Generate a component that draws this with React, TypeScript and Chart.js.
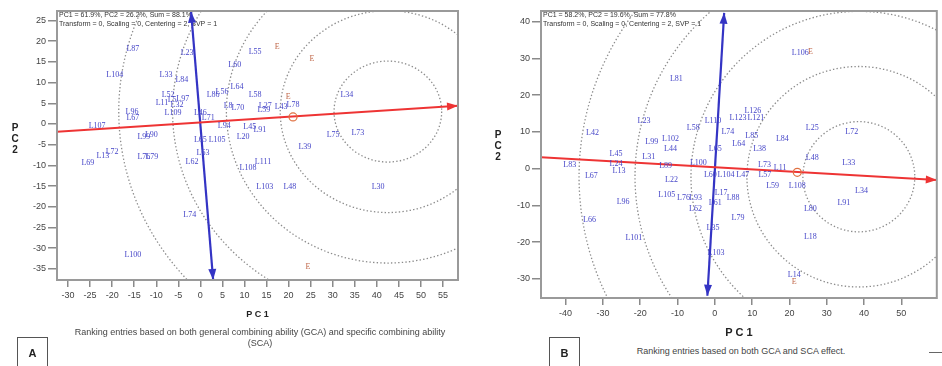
import React, { useEffect, useRef } from "react";
import { Chart, registerables } from "chart.js";
Chart.register(...registerables);

// ---------------- Panel A data ----------------
const aNames = ["L87","L23","L104","L33","L84","L60","L55","L64","L86","L56","L11","L5","L32","L97","L52","L109","L96","L67","L107","L99","L90","L46","L71","L94","L8","L70","L58","L27","L59","L43","L78","L34","L75","L73","L39","L111","L108","L103","L48","L30","L45","L91","L20","L65","L105","L63","L62","L74","L100","L72","L13","L69","L79","L76"];
const aX = [-15.3,-3.0,-19.4,-7.8,-4.2,7.8,12.4,8.3,2.9,4.9,-8.7,-6.4,-5.3,-4.0,-7.3,-6.2,-15.5,-15.3,-23.4,-12.8,-11.1,0.0,1.8,5.4,6.3,8.5,12.4,14.7,14.4,18.3,21.0,33.2,30.1,35.7,23.7,14.2,10.8,14.6,20.3,40.3,11.2,13.5,9.7,0.0,3.8,0.6,-1.9,-2.4,-15.3,-20.0,-22.1,-25.5,-11.0,-12.8];
const aY = [18.1,17.2,11.9,11.9,10.6,14.3,17.4,9.0,7.0,7.7,5.1,5.8,4.6,6.0,7.0,2.7,2.9,1.5,-0.5,-3.1,-2.6,2.7,1.5,-0.5,4.4,3.9,7.0,4.4,3.4,4.1,4.6,7.0,-2.7,-2.2,-5.6,-9.2,-10.6,-15.2,-15.2,-15.2,-0.7,-1.5,-3.1,-3.9,-3.9,-7.0,-9.2,-22.0,-31.7,-6.8,-7.7,-9.4,-8.0,-8.0];
const aEnvX = [17.4, 25.3, 19.9, 24.4];
const aEnvY = [18.6, 15.7, 6.5, -34.6];
const aAvgX = [21.0];
const aAvgY = [1.7];
const aTicksX = [-30,-25,-20,-15,-10,-5,0,5,10,15,20,25,30,35,40,45,50,55];
const aTicksY = [-35,-30,-25,-20,-15,-10,-5,0,5,10,15,20,25];
const aCenter = [42.5, 3.0];
const aRadii = [12.2, 24.4, 36.6, 48.8, 61.0];
const aRedX = [-32.5, 58.4];
const aRedY = [-1.9, 4.4];
const aBlueX = [-2.1, 2.9];
const aBlueY = [27.1, -37.7];
const aHeader = ["PC1 = 61.9%, PC2 = 26.2%, Sum = 88.1%", "Transform = 0, Scaling = 0, Centering = 2, SVP = 1"];

// ---------------- Panel B data ----------------
const bNames = ["L81","L42","L23","L99","L102","L44","L45","L31","L83","L24","L13","L67","L58","L110","L74","L65","L89","L100","L22","L60","L104","L47","L57","L105","L76","L93","L62","L17","L61","L88","L96","L79","L123","L126","L121","L85","L64","L38","L73","L11","L84","L25","L72","L48","L33","L59","L108","L34","L91","L80","L18","L35","L103","L14","L66","L101","L106"];
const bX = [-10.3,-32.8,-19.0,-16.9,-11.9,-11.9,-26.5,-17.7,-38.9,-26.5,-25.7,-33.1,-5.8,-0.5,3.5,0.1,-13.2,-4.4,-11.6,-1.2,3.0,7.5,13.4,-12.9,-8.4,-5.2,-5.2,1.7,0.1,4.9,-24.6,6.2,6.2,10.2,11.0,9.9,6.4,12.0,13.3,17.5,18.1,26.1,36.7,26.1,35.9,15.5,22.1,39.3,34.6,25.6,25.6,-0.5,0.3,21.3,-33.6,-21.7,22.9];
const bY = [24.5,9.6,12.9,7.2,8.2,5.5,3.9,3.1,0.9,1.2,-0.7,-2.1,11.0,13.1,9.9,5.5,0.7,1.5,-3.1,-1.8,-1.8,-1.8,-1.8,-7.2,-8.0,-8.0,-11.0,-6.7,-9.4,-8.0,-9.1,-13.5,13.9,15.8,13.7,8.8,6.6,5.5,1.0,0.1,8.2,11.0,9.9,2.8,1.5,-4.8,-4.8,-6.1,-9.4,-11.0,-18.6,-16.2,-23.0,-28.9,-14.0,-18.9,31.6];
const bEnvX = [25.6, 21.3];
const bEnvY = [31.9, -30.8];
const bAvgX = [22.1];
const bAvgY = [-1.0];
const bTicksX = [-40,-30,-20,-10,0,10,20,30,40,50];
const bTicksY = [-30,-20,-10,0,10,20,30,40];
const bCenter = [38.6, -2.2];
const bRadii = [15, 30, 45, 60, 75];
const bRedX = [-46.6, 59.5];
const bRedY = [3.1, -3.1];
const bBlueX = [2.5, -2.0];
const bBlueY = [42.4, -34.6];
const bHeader = ["PC1 = 58.2%, PC2 = 19.6%, Sum = 77.8%", "Transform = 0, Scaling = 0, Centering = 2, SVP = 1"];

const SANS = "'Liberation Sans', Arial, sans-serif";
const SERIF = "'Liberation Serif', 'Times New Roman', serif";
const LABEL_BLUE = "#4646c8";
const ENV_COL = "#c0684a";

const biplotPlugin = {
  id: "biplot",
  beforeDatasetsDraw(chart: any, _args: any, opts: any) {
    const { ctx, chartArea: a, scales } = chart;
    const x = scales.x, y = scales.y;
    ctx.save();
    ctx.beginPath();
    ctx.rect(a.left, a.top, a.right - a.left, a.bottom - a.top);
    ctx.clip();
    ctx.strokeStyle = "#8c8c8c";
    ctx.lineWidth = 1.3;
    ctx.setLineDash([1.4, 2.2]);
    const cx = x.getPixelForValue(opts.center[0]);
    const cy = y.getPixelForValue(opts.center[1]);
    for (const r of opts.radii) {
      const rx = x.getPixelForValue(opts.center[0] + r) - cx;
      const ry = cy - y.getPixelForValue(opts.center[1] + r);
      ctx.beginPath();
      ctx.ellipse(cx, cy, rx, ry, 0, 0, Math.PI * 2);
      ctx.stroke();
    }
    ctx.restore();
    ctx.save();
    ctx.font = `7px ${SANS}`;
    ctx.fillStyle = "#333";
    ctx.textBaseline = "middle";
    opts.header.forEach((t: string, i: number) => ctx.fillText(t, a.left + 2, a.top + 4 + i * 9));
    ctx.restore();
  },
  afterDatasetsDraw(chart: any) {
    const { ctx } = chart;
    chart.data.datasets.forEach((ds: any, i: number) => {
      const meta = chart.getDatasetMeta(i);
      if (ds.labelTexts) {
        ctx.save();
        ctx.font = `8px ${SERIF}`;
        ctx.fillStyle = ds.labelColor;
        ctx.textAlign = "center";
        ctx.textBaseline = "middle";
        meta.data.forEach((el: any, j: number) => ctx.fillText(ds.labelTexts[j], el.x, el.y));
        ctx.restore();
      }
      if (ds.arrowEnds) {
        const p = meta.data;
        const heads: any[] = [];
        if (ds.arrowEnds.includes("end")) heads.push([p[0], p[1]]);
        if (ds.arrowEnds.includes("start")) heads.push([p[1], p[0]]);
        ctx.save();
        ctx.fillStyle = ds.borderColor;
        for (const [from, tip] of heads) {
          const ang = Math.atan2(tip.y - from.y, tip.x - from.x);
          const L = 11, W = 4;
          ctx.beginPath();
          ctx.moveTo(tip.x, tip.y);
          ctx.lineTo(tip.x - L * Math.cos(ang) + W * Math.sin(ang), tip.y - L * Math.sin(ang) - W * Math.cos(ang));
          ctx.lineTo(tip.x - L * Math.cos(ang) - W * Math.sin(ang), tip.y - L * Math.sin(ang) + W * Math.cos(ang));
          ctx.closePath();
          ctx.fill();
        }
        ctx.restore();
      }
    });
  },
  afterDraw(chart: any) {
    const { ctx, chartArea: a } = chart;
    ctx.save();
    ctx.strokeStyle = "#9a9a9a";
    ctx.lineWidth = 2;
    ctx.strokeRect(a.left, a.top, a.right - a.left, a.bottom - a.top);
    ctx.restore();
  },
};

function pts(xs: number[], ys: number[]) {
  return xs.map((v, i) => ({ x: v, y: ys[i] }));
}

function buildConfig(s: any): any {
  return {
    type: "scatter",
    data: {
      datasets: [
        { data: pts(s.names.map((_: any, i: number) => s.px[i]), s.py), pointRadius: 0, labelTexts: s.names, labelColor: LABEL_BLUE },
        { data: pts(s.envX, s.envY), pointRadius: 0, labelTexts: s.envX.map(() => "E"), labelColor: ENV_COL },
        { data: pts(s.avgX, s.avgY), pointRadius: 4, pointBorderColor: "#e07040", pointBackgroundColor: "rgba(0,0,0,0)", pointBorderWidth: 1.2 },
        { type: "line", data: pts(s.redX, s.redY), showLine: true, borderColor: "#ee3434", borderWidth: 2, pointRadius: 0, arrowEnds: ["end"] },
        { type: "line", data: pts(s.blueX, s.blueY), showLine: true, borderColor: "#3434c4", borderWidth: 2.2, pointRadius: 0, arrowEnds: ["start", "end"] },
      ],
    },
    options: {
      responsive: false,
      animation: false,
      devicePixelRatio: 1,
      layout: { padding: { top: 11, right: s.padRight, left: 0, bottom: 0 } },
      plugins: {
        legend: { display: false },
        tooltip: { enabled: false },
        biplot: { center: s.center, radii: s.radii, header: s.header },
      },
      scales: {
        x: {
          type: "linear",
          min: s.xMin,
          max: s.xMax,
          afterBuildTicks: (sc: any) => { sc.ticks = s.ticksX.map((v: number) => ({ value: v })); },
          afterFit: (sc: any) => { sc.height = s.xAxisH; },
          grid: { drawOnChartArea: false, drawTicks: true, tickLength: 7, color: "#8a8a8a", lineWidth: 1.5 },
          border: { display: false },
          ticks: { font: { family: SANS, size: 9 }, color: "#444", padding: 3, maxRotation: 0, autoSkip: false },
          title: { display: true, text: "P C 1", font: { family: SANS, size: s.titleSize, weight: "bold" }, color: "#222", padding: { top: 0, bottom: 0 } },
        },
        y: {
          type: "linear",
          min: s.yMin,
          max: s.yMax,
          afterBuildTicks: (sc: any) => { sc.ticks = s.ticksY.map((v: number) => ({ value: v })); },
          afterFit: (sc: any) => { sc.width = s.yAxisW; },
          grid: { drawOnChartArea: false, drawTicks: true, tickLength: 9, color: "#8a8a8a", lineWidth: 1.5 },
          border: { display: false },
          ticks: { font: { family: SANS, size: 9 }, color: "#444", padding: 2, autoSkip: false },
        },
      },
    },
    plugins: [biplotPlugin],
  };
}

const specA = {
  left: 0, w: 470, h: 320, padRight: 12, xAxisH: 40, yAxisW: 57, titleSize: 9,
  names: aNames, px: aX, py: aY, envX: aEnvX, envY: aEnvY, avgX: aAvgX, avgY: aAvgY,
  ticksX: aTicksX, ticksY: aTicksY, xMin: -32.5, xMax: 58.4, yMin: -37.7, yMax: 27.3,
  center: aCenter, radii: aRadii, redX: aRedX, redY: aRedY, blueX: aBlueX, blueY: aBlueY, header: aHeader,
};
const specB = {
  left: 470, w: 472, h: 340, padRight: 1, xAxisH: 42, yAxisW: 71, titleSize: 11,
  names: bNames, px: bX, py: bY, envX: bEnvX, envY: bEnvY, avgX: bAvgX, avgY: bAvgY,
  ticksX: bTicksX, ticksY: bTicksY, xMin: -46.6, xMax: 59.5, yMin: -35.2, yMax: 42.9,
  center: bCenter, radii: bRadii, redX: bRedX, redY: bRedY, blueX: bBlueX, blueY: bBlueY, header: bHeader,
};

function Biplot({ spec }: { spec: any }) {
  const ref = useRef<HTMLCanvasElement>(null);
  useEffect(() => {
    const chart = new Chart(ref.current as HTMLCanvasElement, buildConfig(spec));
    return () => chart.destroy();
  }, []);
  return (
    <canvas
      ref={ref}
      width={spec.w}
      height={spec.h}
      style={{ position: "absolute", left: spec.left, top: 0, width: spec.w, height: spec.h }}
    />
  );
}

const stack: React.CSSProperties = {
  position: "absolute", width: 14, textAlign: "center", fontFamily: SANS, fontWeight: "bold",
  fontSize: 10, lineHeight: "11px", color: "#222",
};
const caption: React.CSSProperties = {
  position: "absolute", textAlign: "center", fontFamily: SANS, fontSize: 9, lineHeight: "11px",
  color: "#444", whiteSpace: "nowrap",
};
const box: React.CSSProperties = {
  position: "absolute", width: 29, height: 32, border: "1.5px solid #555", fontFamily: SANS,
  fontWeight: "bold", fontSize: 11, textAlign: "center", lineHeight: "30px", color: "#222",
};

export default function App() {
  return (
    <div style={{ position: "absolute", left: 0, top: 0, width: 942, height: 366, overflow: "hidden", background: "#fff" }}>
      <Biplot spec={specA} />
      <Biplot spec={specB} />
      <div style={{ ...stack, left: 8, top: 122 }}>P<br />C<br />2</div>
      <div style={{ ...stack, left: 491, top: 129 }}>P<br />C<br />2</div>
      <div style={{ ...caption, left: 40, width: 440, top: 327 }}>
        Ranking entries based on both general combining ability (GCA) and specific combining ability<br />(SCA)
      </div>
      <div style={{ ...caption, left: 620, width: 242, top: 346 }}>Ranking entries based on both GCA and SCA effect.</div>
      <div style={{ ...box, left: 17, top: 337 }}>A</div>
      <div style={{ ...box, left: 549, top: 337 }}>B</div>
      <div style={{ position: "absolute", left: 929, top: 352, width: 13, height: 1, background: "#666" }} />
    </div>
  );
}
